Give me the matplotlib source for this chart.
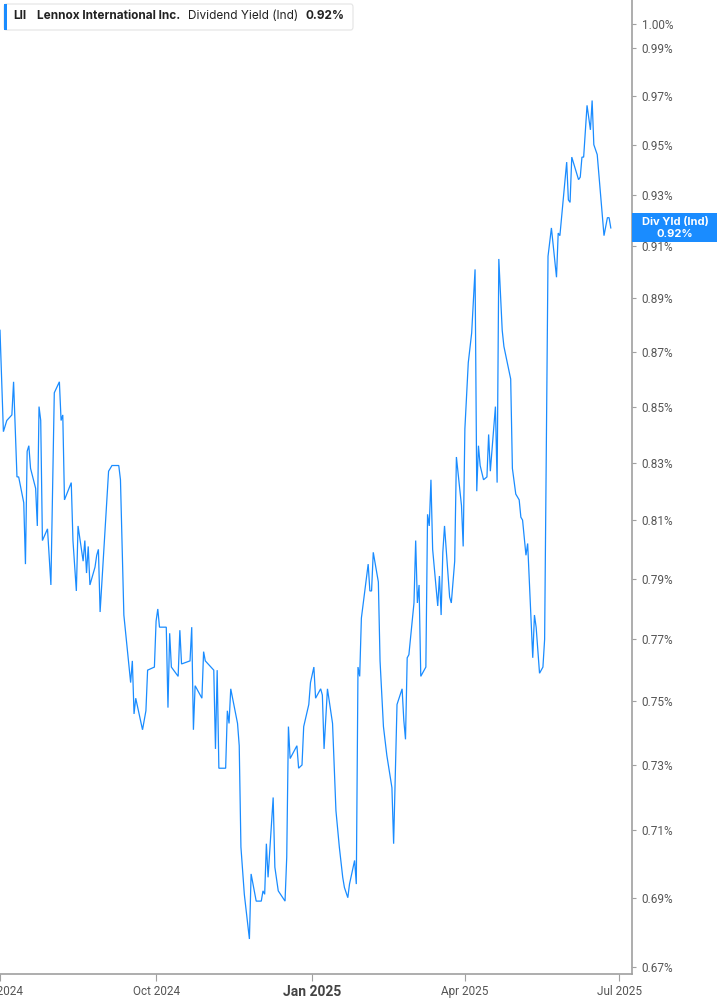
import matplotlib
matplotlib.use("Agg")
import matplotlib.pyplot as plt
from matplotlib.patches import Rectangle, FancyBboxPatch
from matplotlib.ticker import FixedLocator, NullLocator, FuncFormatter
import pandas as pd

# Lennox International (LII) dividend yield (percent)
dates = [
    "2024-07-01", "2024-07-03", "2024-07-05", "2024-07-08", "2024-07-09", "2024-07-11", "2024-07-12",
    "2024-07-15", "2024-07-16", "2024-07-17", "2024-07-18", "2024-07-19", "2024-07-22", "2024-07-23",
    "2024-07-24", "2024-07-25", "2024-07-26", "2024-07-29", "2024-07-31",
    "2024-08-02", "2024-08-05", "2024-08-06", "2024-08-07", "2024-08-08", "2024-08-12", "2024-08-13",
    "2024-08-15", "2024-08-16", "2024-08-19", "2024-08-20", "2024-08-21", "2024-08-22", "2024-08-23",
    "2024-08-26", "2024-08-27", "2024-08-28", "2024-08-29",
    "2024-09-03", "2024-09-05", "2024-09-09", "2024-09-10", "2024-09-12", "2024-09-16", "2024-09-17",
    "2024-09-18", "2024-09-19", "2024-09-23", "2024-09-25", "2024-09-26", "2024-09-30",
    "2024-10-01", "2024-10-02", "2024-10-03", "2024-10-07", "2024-10-08", "2024-10-09", "2024-10-10",
    "2024-10-14", "2024-10-15", "2024-10-16", "2024-10-21", "2024-10-22", "2024-10-23", "2024-10-24",
    "2024-10-28", "2024-10-29", "2024-10-30",
    "2024-11-04", "2024-11-05", "2024-11-06", "2024-11-07", "2024-11-11", "2024-11-12", "2024-11-13",
    "2024-11-14", "2024-11-18", "2024-11-19", "2024-11-20", "2024-11-22", "2024-11-25", "2024-11-26",
    "2024-11-29",
    "2024-12-02", "2024-12-03", "2024-12-04", "2024-12-05", "2024-12-06", "2024-12-09", "2024-12-10",
    "2024-12-12", "2024-12-16", "2024-12-17", "2024-12-18", "2024-12-19", "2024-12-23", "2024-12-24",
    "2024-12-26", "2024-12-27", "2024-12-30", "2024-12-31",
    "2025-01-02", "2025-01-03", "2025-01-06", "2025-01-07", "2025-01-08", "2025-01-10", "2025-01-13",
    "2025-01-14", "2025-01-15", "2025-01-17", "2025-01-19", "2025-01-20", "2025-01-22", "2025-01-23",
    "2025-01-26", "2025-01-27", "2025-01-28", "2025-01-29", "2025-01-30",
    "2025-02-01", "2025-02-03", "2025-02-04", "2025-02-05", "2025-02-06", "2025-02-09", "2025-02-10",
    "2025-02-12", "2025-02-14", "2025-02-17", "2025-02-18", "2025-02-20", "2025-02-23", "2025-02-24",
    "2025-02-25", "2025-02-26", "2025-02-27",
    "2025-03-02", "2025-03-03", "2025-03-04", "2025-03-05", "2025-03-06", "2025-03-09", "2025-03-10",
    "2025-03-11", "2025-03-12", "2025-03-13", "2025-03-16", "2025-03-17", "2025-03-18", "2025-03-19",
    "2025-03-20", "2025-03-23", "2025-03-24", "2025-03-25", "2025-03-26", "2025-03-27", "2025-03-30",
    "2025-03-31",
    "2025-04-01", "2025-04-03", "2025-04-05", "2025-04-07", "2025-04-08", "2025-04-09", "2025-04-10",
    "2025-04-12", "2025-04-14", "2025-04-15", "2025-04-16", "2025-04-18", "2025-04-19", "2025-04-20",
    "2025-04-21", "2025-04-23", "2025-04-24", "2025-04-26", "2025-04-28", "2025-04-29",
    "2025-05-01", "2025-05-03", "2025-05-04", "2025-05-05", "2025-05-07", "2025-05-08", "2025-05-11",
    "2025-05-12", "2025-05-13", "2025-05-15", "2025-05-17", "2025-05-18", "2025-05-20", "2025-05-22",
    "2025-05-25", "2025-05-26", "2025-05-27", "2025-05-31",
    "2025-06-01", "2025-06-02", "2025-06-03", "2025-06-07", "2025-06-08", "2025-06-09", "2025-06-10",
    "2025-06-12", "2025-06-14", "2025-06-15", "2025-06-16", "2025-06-18", "2025-06-22", "2025-06-24",
    "2025-06-25", "2025-06-26",
]
yields = [
    # Jul 2024
    0.878, 0.841, 0.845, 0.847, 0.859, 0.825, 0.825, 0.816, 0.795, 0.834, 0.836, 0.828, 0.821, 0.808,
    0.850, 0.845, 0.803, 0.807, 0.788,
    # Aug
    0.855, 0.859, 0.845, 0.847, 0.817, 0.823, 0.803, 0.786, 0.808, 0.796, 0.803, 0.792, 0.801, 0.788,
    0.794, 0.798, 0.800, 0.779,
    # Sep
    0.827, 0.829, 0.829, 0.824, 0.778, 0.756, 0.763, 0.746, 0.751, 0.741, 0.747, 0.760, 0.761,
    # Oct
    0.776, 0.780, 0.774, 0.774, 0.748, 0.772, 0.761, 0.758, 0.773, 0.762, 0.763, 0.774, 0.741, 0.755,
    0.751, 0.766, 0.763,
    # Nov
    0.760, 0.735, 0.760, 0.729, 0.729, 0.747, 0.743, 0.754, 0.743, 0.736, 0.705, 0.691, 0.678, 0.697,
    0.689,
    # Dec
    0.689, 0.692, 0.691, 0.706, 0.696, 0.720, 0.699, 0.692, 0.689, 0.702, 0.742, 0.732, 0.736, 0.729,
    0.730, 0.742, 0.749, 0.756,
    # Jan 2025
    0.761, 0.751, 0.754, 0.752, 0.735, 0.754, 0.743, 0.729, 0.716, 0.705, 0.696, 0.693, 0.690, 0.694,
    0.701, 0.694, 0.761, 0.758, 0.777,
    # Feb
    0.786, 0.795, 0.786, 0.786, 0.799, 0.789, 0.763, 0.742, 0.733, 0.723, 0.706, 0.749, 0.754, 0.744,
    0.738, 0.764, 0.765,
    # Mar
    0.782, 0.803, 0.782, 0.788, 0.758, 0.761, 0.812, 0.808, 0.824, 0.800, 0.781, 0.791, 0.778, 0.799,
    0.808, 0.784, 0.782, 0.789, 0.796, 0.832, 0.815, 0.801,
    # Apr
    0.842, 0.866, 0.877, 0.901, 0.820, 0.836, 0.829, 0.824, 0.825, 0.840, 0.827, 0.842, 0.850, 0.823,
    0.905, 0.878, 0.872, 0.866, 0.860, 0.828,
    # May
    0.819, 0.817, 0.811, 0.810, 0.798, 0.802, 0.764, 0.778, 0.774, 0.759, 0.761, 0.770, 0.906, 0.917,
    0.898, 0.915, 0.914, 0.943,
    # Jun
    0.928, 0.927, 0.945, 0.936, 0.937, 0.945, 0.945, 0.966, 0.956, 0.968, 0.950, 0.946, 0.914, 0.921,
    0.921, 0.917,
]

ytick_vals = [1.00, 0.99, 0.97, 0.95, 0.93, 0.91, 0.89, 0.87, 0.85, 0.83, 0.81, 0.79, 0.77, 0.75,
              0.73, 0.71, 0.69, 0.67]
xtick_dates = ["2024-07-01", "2024-10-01", "2025-01-01", "2025-04-01", "2025-07-01"]
xtick_labels = ["Jul 2024", "Oct 2024", "Jan 2025", "Apr 2025", "Jul 2025"]

ticker_sym = "LII"
company = "Lennox International Inc."
metric = "Dividend Yield (Ind)"
last_label = "Div Yld (Ind)"

BLUE = "#1a8cff"
AXIS = "#a0a0a0"
TXT = "#555555"
FONT = ["Roboto", "DejaVu Sans"]
HEAD = ["Inter", "DejaVu Sans"]

W, H = 717, 1005
AX_BOTTOM = 974  # pixel row of the x axis line
AX_RIGHT = 632   # pixel column of the y axis line
fig = plt.figure(figsize=(W / 100, H / 100), dpi=100)
ax = fig.add_axes([0, (H - AX_BOTTOM) / H, AX_RIGHT / W, AX_BOTTOM / H])

x = pd.to_datetime(dates)
ax.plot(x, yields, color=BLUE, lw=0.9, solid_joinstyle="miter")

ax.set_yscale("log")
ax.set_ylim(0.668, 1.0102)
ax.set_xlim(pd.Timestamp("2024-07-01"), pd.Timestamp("2025-07-08 12:00"))

ax.yaxis.tick_right()
ax.yaxis.set_major_locator(FixedLocator(ytick_vals))
ax.yaxis.set_minor_locator(NullLocator())
ax.yaxis.set_major_formatter(FuncFormatter(lambda v, _: f"{v:.2f}%"))
ax.tick_params(axis="y", length=3, width=0.8, color=AXIS, labelcolor=TXT, labelsize=8.5, pad=4)
for t in ax.get_yticklabels():
    t.set_family(FONT)

ax.set_xticks(pd.to_datetime(xtick_dates))
ax.set_xticklabels(xtick_labels)
ax.xaxis.set_minor_locator(NullLocator())
ax.tick_params(axis="x", length=5, width=0.8, color=AXIS, labelcolor=TXT, labelsize=8.5, pad=3)
for t in ax.get_xticklabels():
    t.set_family(FONT)
    if t.get_text() == "Jan 2025":
        t.set_fontweight("bold")
        t.set_fontsize(10)
        t.set_color("#444444")

for side in ["left", "top"]:
    ax.spines[side].set_visible(False)
for side in ["right", "bottom"]:
    ax.spines[side].set_color(AXIS)
    ax.spines[side].set_linewidth(1.2)

# header box, top left
fig.patches.append(FancyBboxPatch((4 / W, 1 - 30 / H), 349 / W, 26 / H, transform=fig.transFigure,
                                  boxstyle="round,pad=0,rounding_size=0.003",
                                  fc="white", ec="#e4e4e4", lw=0.8))
fig.patches.append(Rectangle((4 / W, 1 - 30 / H), 3 / W, 26 / H, transform=fig.transFigure,
                             fc=BLUE, ec="none"))
ty = 1 - 16 / H
fig.text(13 / W, ty, ticker_sym, fontsize=8.5, fontweight="bold", color="#222222", va="center", family=HEAD)
fig.text(37 / W, ty, company, fontsize=8.5, fontweight="bold", color="#222222", va="center", family=HEAD)
fig.text(188 / W, ty, metric, fontsize=8.5, color="#222222", va="center", family=HEAD)
fig.text(305 / W, ty, f"{yields[-1]:.2f}%", fontsize=8.5, fontweight="bold", color="#222222",
         va="center", family=HEAD)

# last value tag on the right axis
y_px = ax.transData.transform((ax.get_xlim()[1], yields[-1]))[1]
fig.patches.append(Rectangle((AX_RIGHT / W, (y_px - 14.5) / H), (W - AX_RIGHT) / W, 29 / H,
                             transform=fig.transFigure, fc=BLUE, ec="none"))
fig.text(675 / W, (y_px + 6) / H, last_label, fontsize=8, fontweight="bold", color="white",
         ha="center", va="center", family=HEAD)
fig.text(675 / W, (y_px - 6) / H, f"{yields[-1]:.2f}%", fontsize=8, fontweight="bold", color="white",
         ha="center", va="center", family=HEAD)

fig.savefig("out.png", dpi=100)
